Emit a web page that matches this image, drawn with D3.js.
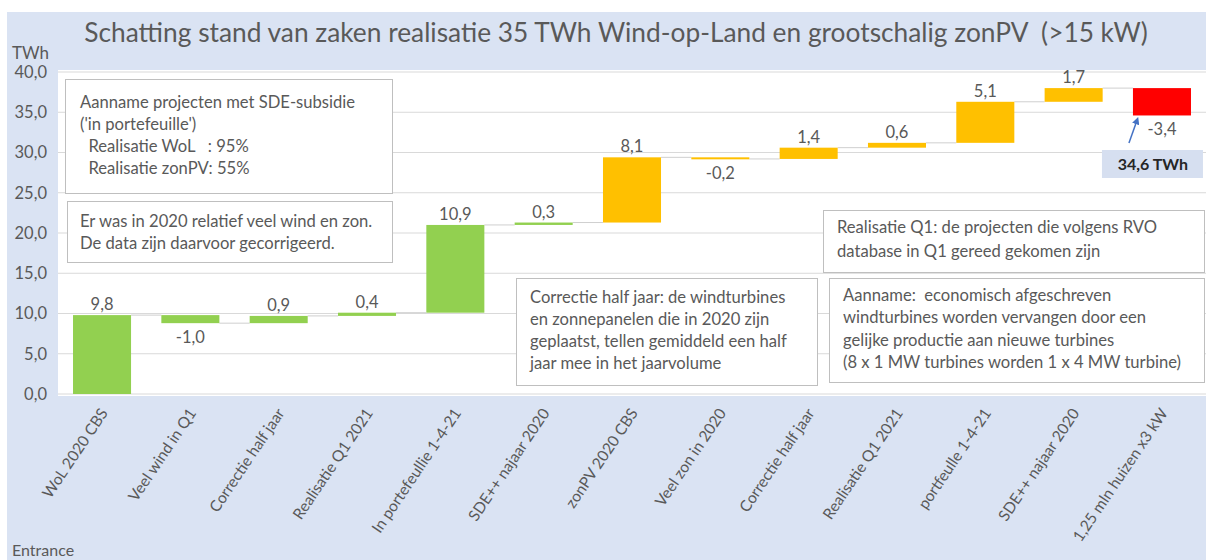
<!DOCTYPE html>
<html>
<head>
<meta charset="utf-8">
<script src="https://cdn.jsdelivr.net/npm/d3@7"></script>
<style>
  html, body { margin: 0; padding: 0; background: #fff; }
  svg { display: block; font-family: Lato, "Open Sans", sans-serif; }
</style>
</head>
<body>
<div id="chart"></div>
<script>
// data
const categories = [
  "WoL 2020 CBS", "Veel wind in Q1", "Correctie half jaar", "Realisatie Q1 2021",
  "In portefeullie 1-4-21", "SDE++ najaar 2020", "zonPV 2020 CBS", "Veel zon in 2020",
  "Correctie half jaar", "Realisatie Q1 2021", "portfeulle 1-4-21", "SDE++ najaar 2020",
  "1,25 mln huizen x3 kW"
];
const deltas = [9.8, -1.0, 0.9, 0.4, 10.9, 0.3, 8.1, -0.2, 1.4, 0.6, 5.1, 1.7, -3.4];
const groups = ["wind", "wind", "wind", "wind", "wind", "wind",
  "zon", "zon", "zon", "zon", "zon", "zon", "huizen"];
const yTicks = [0, 5, 10, 15, 20, 25, 30, 35, 40];

const notes = [
  { x: 65, y: 79, w: 327, h: 114, tx: 80, ty: 108, lh: 22,
    lines: ["Aanname projecten met SDE-subsidie", "('in portefeuille')",
            "  Realisatie WoL   : 95%", "  Realisatie zonPV: 55%"] },
  { x: 67, y: 201, w: 325, h: 61, tx: 80, ty: 227, lh: 21.5,
    lines: ["Er was in 2020 relatief veel wind en zon.", "De data zijn daarvoor gecorrigeerd."] },
  { x: 516, y: 278, w: 301, h: 107, tx: 530, ty: 303, lh: 22,
    lines: ["Correctie half jaar: de windturbines", "en zonnepanelen die in 2020 zijn",
            "geplaatst, tellen gemiddeld een half", "jaar mee in het jaarvolume"] },
  { x: 823, y: 210, w: 381, h: 62, tx: 837, ty: 233, lh: 23.5,
    lines: ["Realisatie Q1: de projecten die volgens RVO", "database in Q1 gereed gekomen zijn"] },
  { x: 829, y: 278, w: 375, h: 104, tx: 843, ty: 301, lh: 22.3,
    lines: ["Aanname:  economisch afgeschreven", "windturbines worden vervangen door een",
            "gelijke productie aan nieuwe turbines", "(8 x 1 MW turbines worden 1 x 4 MW turbine)"] }
];

const W = 1206, H = 560;
const plot = { left: 58, right: 1206, top: 70, bottom: 396 };
const colors = { wind: "#92d050", zon: "#ffc000", huizen: "#ff0000" };
const textCol = "#595959";
const fmt = v => d3.format(".1f")(v).replace(".", ",").replace("−", "-");

// waterfall steps
let run = 0;
const steps = deltas.map((d, i) => {
  const start = run;
  run += d;
  return { cat: i, label: categories[i], delta: d, start, end: run, group: groups[i] };
});

const svg = d3.select("#chart").append("svg").attr("width", W).attr("height", H);

// background
svg.append("rect").attr("x", 7).attr("y", 12).attr("width", W - 7).attr("height", H - 12)
  .attr("fill", "#dae3f3");
svg.append("rect").attr("x", plot.left).attr("y", plot.top)
  .attr("width", plot.right - plot.left).attr("height", plot.bottom - plot.top)
  .attr("fill", "#fff");

const x = d3.scaleBand().domain(d3.range(categories.length))
  .range([plot.left, plot.right]).paddingInner(0.343).paddingOuter(0.17);
const y = d3.scaleLinear().domain([0, 40]).range([394, 72]);

// grid
svg.append("g").selectAll("line").data(yTicks).join("line")
  .attr("x1", plot.left).attr("x2", plot.right)
  .attr("y1", d => y(d)).attr("y2", d => y(d))
  .attr("stroke", "#d9d9d9").attr("stroke-width", 1);

// y axis labels
const yAxis = svg.append("g").attr("transform", `translate(${plot.left},0)`)
  .call(d3.axisLeft(y).tickValues(yTicks).tickFormat(fmt).tickSize(0).tickPadding(11));
yAxis.select(".domain").remove();
yAxis.selectAll("text").attr("fill", textCol).attr("font-size", 16.5)
  .attr("font-family", "Lato, sans-serif");

svg.append("text").attr("x", 12).attr("y", 59).attr("fill", textCol)
  .attr("font-size", 17).text("TWh");

// title
svg.append("text").attr("x", 616).attr("y", 42).attr("text-anchor", "middle")
  .attr("xml:space", "preserve")
  .attr("fill", textCol).attr("font-size", 26.3)
  .text("Schatting stand van zaken realisatie 35 TWh Wind-op-Land en grootschalig zonPV  (>15 kW)");

// connectors
svg.append("g").selectAll("line").data(steps.slice(0, -1)).join("line")
  .attr("x1", d => x(d.cat) + x.bandwidth())
  .attr("x2", d => x(d.cat + 1))
  .attr("y1", d => y(d.end)).attr("y2", d => y(d.end))
  .attr("stroke", "#cfcfcf").attr("stroke-width", 1);

// bars
svg.append("g").selectAll("rect").data(steps).join("rect")
  .attr("x", d => x(d.cat))
  .attr("width", x.bandwidth())
  .attr("y", d => y(Math.max(d.start, d.end)))
  .attr("height", d => Math.max(2, Math.abs(y(d.start) - y(d.end))))
  .attr("fill", d => colors[d.group]);

// value labels
svg.append("g").selectAll("text").data(steps).join("text")
  .attr("x", d => x(d.cat) + x.bandwidth() / 2)
  .attr("y", d => d.delta >= 0 ? y(d.end) - 5 : y(d.end) + 20)
  .attr("text-anchor", "middle").attr("fill", textCol).attr("font-size", 16.5)
  .text(d => fmt(d.delta));

// x labels
svg.append("g").selectAll("text").data(steps).join("text")
  .attr("transform", d => `translate(${x(d.cat) + x.bandwidth() / 2 + 2},410) rotate(-56)`)
  .attr("text-anchor", "end").attr("fill", textCol).attr("font-size", 15.5)
  .attr("dy", "0.35em")
  .text(d => d.label);

svg.append("text").attr("x", 12).attr("y", 556).attr("fill", textCol)
  .attr("font-size", 16).text("Entrance");

// annotation boxes
const nb = svg.append("g").selectAll("g").data(notes).join("g");
nb.append("rect")
  .attr("x", d => d.x + 0.5).attr("y", d => d.y + 0.5)
  .attr("width", d => d.w).attr("height", d => d.h)
  .attr("fill", "#fff").attr("stroke", "#bfbfbf");
nb.each(function (d) {
  const t = d3.select(this).append("text").attr("fill", textCol).attr("font-size", 16.6)
    .attr("xml:space", "preserve");
  d.lines.forEach((l, i) => {
    t.append("tspan").attr("x", d.tx).attr("y", d.ty + i * d.lh).text(l);
  });
});

// total callout
const last = steps[steps.length - 1];
const lx = x(last.cat);
svg.append("rect").attr("x", lx - 31).attr("y", 150).attr("width", 101).attr("height", 28)
  .attr("fill", "#d6dff0");
svg.append("text").attr("x", lx + 20).attr("y", 170).attr("text-anchor", "middle")
  .attr("fill", "#262626").attr("font-size", 16).attr("font-weight", "bold")
  .text(fmt(last.end) + " TWh");

svg.append("defs").append("marker").attr("id", "arr")
  .attr("viewBox", "0 0 10 10").attr("refX", 5).attr("refY", 5)
  .attr("markerWidth", 5).attr("markerHeight", 5).attr("orient", "auto")
  .append("path").attr("d", "M0,0 L10,5 L0,10 z").attr("fill", "#4472c4");
svg.append("line").attr("x1", lx - 4).attr("y1", 143)
  .attr("x2", lx + 4).attr("y2", y(last.end) + 5)
  .attr("stroke", "#4472c4").attr("stroke-width", 1.5).attr("marker-end", "url(#arr)");
</script>
</body>
</html>
